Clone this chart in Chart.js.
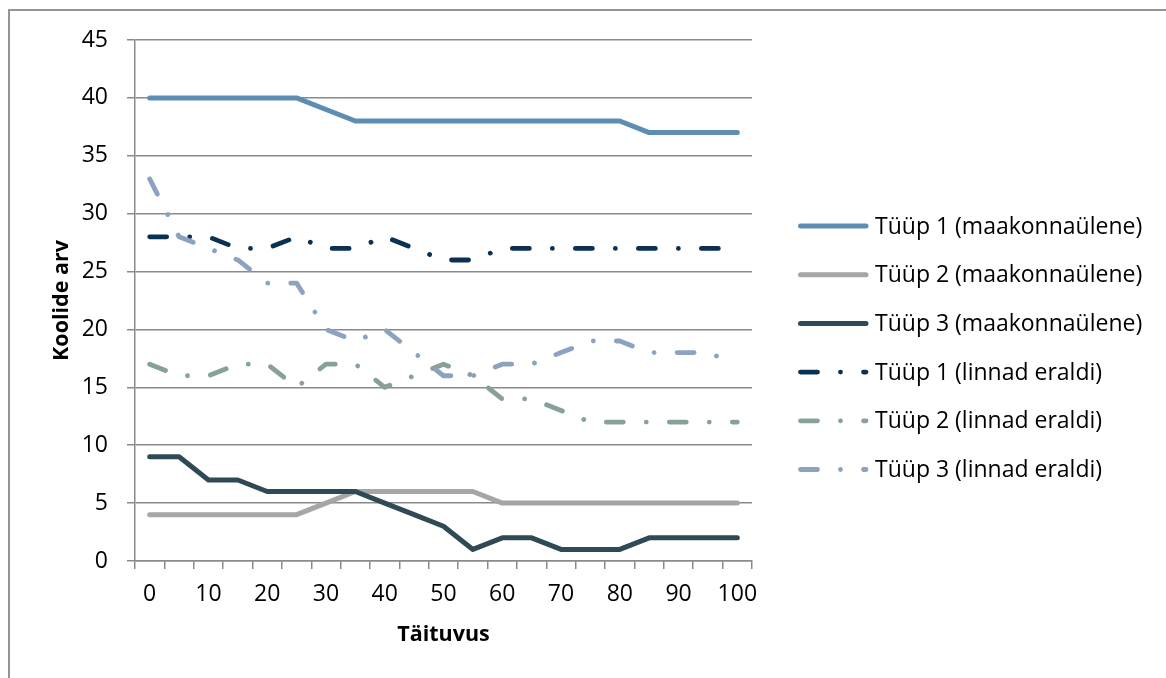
<!DOCTYPE html>
<html>
<head>
<meta charset="utf-8">
<script src="https://cdn.jsdelivr.net/npm/chart.js@4"></script>
<style>
html,body{margin:0;padding:0;background:#fff;overflow:hidden;}
#frame{position:absolute;left:8px;top:9px;width:1200px;height:700px;border-top:2px solid #959595;border-left:2px solid #959595;}
#c{position:absolute;left:0;top:0;}
</style>
</head>
<body>
<div id="frame"></div>
<canvas id="c" width="1166" height="678"></canvas>
<script>
const categories = ['0','5','10','15','20','25','30','35','40','45','50','55','60','65','70','75','80','85','90','95','100'];
const seriesNames = ['Tüüp 1 (maakonnaülene)','Tüüp 2 (maakonnaülene)','Tüüp 3 (maakonnaülene)','Tüüp 1 (linnad eraldi)','Tüüp 2 (linnad eraldi)','Tüüp 3 (linnad eraldi)'];
const tyyp1Maakond = [40,40,40,40,40,40,39,38,38,38,38,38,38,38,38,38,38,37,37,37,37];
const tyyp2Maakond = [4,4,4,4,4,4,5,6,6,6,6,6,5,5,5,5,5,5,5,5,5];
const tyyp3Maakond = [9,9,7,7,6,6,6,6,5,4,3,1,2,2,1,1,1,2,2,2,2];
const tyyp1Linnad = [28,28,28,27,27,28,27,27,28,27,26,26,27,27,27,27,27,27,27,27,27];
const tyyp2Linnad = [17,16,16,17,17,15,17,17,15,16,17,16,14,14,13,12,12,12,12,12,12];
const tyyp3Linnad = [33,28,27,26,24,24,20,19,20,18,16,16,17,17,18,19,19,18,18,18,17];
const yTicksMin = 0, yTicksMax = 45, yTicksStep = 5;

const colors = ['#5d8db3','#a6a6a6','#2f4a54','#0b3152','#87a19a','#8ba3c1'];
const allData = [tyyp1Maakond,tyyp2Maakond,tyyp3Maakond,tyyp1Linnad,tyyp2Linnad,tyyp3Linnad];
const dashPattern = [17,23,0.01,23];
const FONT = '"Open Sans", sans-serif';

const datasets = allData.map((d,i)=>({
  label: seriesNames[i],
  data: d,
  borderColor: colors[i],
  backgroundColor: colors[i],
  borderWidth: i<3 ? 5 : 4.8,
  borderDash: i<3 ? [] : dashPattern,
  borderCapStyle: 'round',
  borderJoinStyle: 'round',
  pointRadius: 0,
  pointHoverRadius: 0,
  tension: 0,
  fill: false,
  order: -i
}));

const legendPlugin = {
  id: 'customLegend',
  afterDraw(chart){
    const ctx = chart.ctx;
    const x0 = 800.5, x1 = 866, tx = 875, y0 = 226, dy = 48.7;
    chart.data.datasets.forEach((ds,i)=>{
      const y = y0 + i*dy;
      ctx.save();
      ctx.strokeStyle = ds.borderColor;
      ctx.lineWidth = ds.borderWidth;
      ctx.lineCap = 'round';
      ctx.setLineDash(ds.borderDash || []);
      ctx.beginPath();
      ctx.moveTo(x0, y);
      ctx.lineTo(x1, y);
      ctx.stroke();
      ctx.setLineDash([]);
      ctx.fillStyle = '#000';
      ctx.font = '23px ' + FONT;
      ctx.textBaseline = 'middle';
      ctx.textAlign = 'left';
      ctx.fillText(ds.label, tx, y+1);
      ctx.restore();
    });
  }
};

new Chart(document.getElementById('c'), {
  type: 'line',
  data: { labels: categories, datasets },
  options: {
    responsive: false,
    animation: false,
    devicePixelRatio: 1,
    layout: { padding: { left: 0, top: 40, right: 414, bottom: 0 } },
    plugins: { legend: { display: false }, tooltip: { enabled: false } },
    scales: {
      x: {
        type: 'category',
        offset: true,
        afterFit(s){ s.height = 117; },
        grid: { display: true, drawOnChartArea: false, drawTicks: true, offset: true, tickLength: 8, color: '#8a8a8a', lineWidth: 1.5 },
        border: { display: true, color: '#8a8a8a', width: 1.5 },
        ticks: {
          autoSkip: false, maxRotation: 0, minRotation: 0, padding: 12,
          color: '#000', font: { family: FONT, size: 23 },
          callback(v, i){ return i % 2 === 0 ? categories[i] : ''; }
        },
        title: { display: true, text: 'Täituvus', color: '#000', font: { family: FONT, size: 21.5, weight: 'bold' }, padding: { top: 0, bottom: 30 } }
      },
      y: {
        min: yTicksMin, max: yTicksMax,
        afterFit(s){ s.width = 135; },
        grid: { display: true, drawOnChartArea: true, drawTicks: true, tickLength: 8, color: '#8a8a8a', lineWidth: 1.5 },
        border: { display: true, color: '#8a8a8a', width: 1.5 },
        ticks: { stepSize: yTicksStep, padding: 19, color: '#000', font: { family: FONT, size: 23 } },
        title: { display: true, text: 'Koolide arv', color: '#000', font: { family: FONT, size: 21.5, weight: 'bold' }, padding: { top: 49, bottom: 0 } }
      }
    }
  },
  plugins: [legendPlugin]
});
</script>
</body>
</html>
